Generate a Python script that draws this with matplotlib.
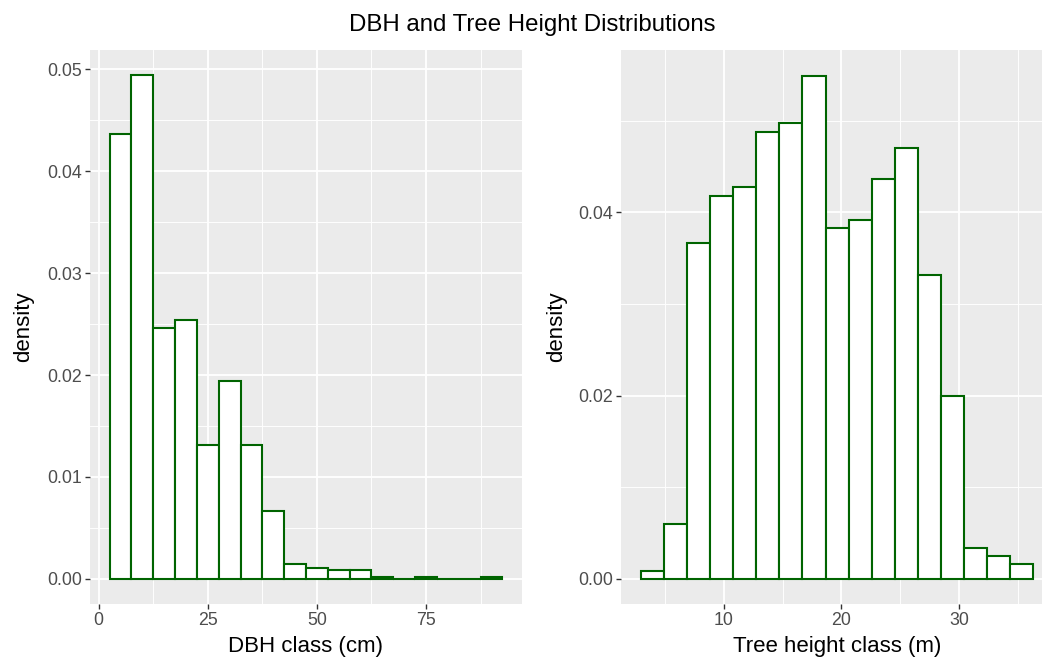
import numpy as np
import matplotlib
matplotlib.use("Agg")
import matplotlib.pyplot as plt
from matplotlib.ticker import MultipleLocator, FixedLocator

plt.rcParams['font.family'] = ['Liberation Sans', 'DejaVu Sans']

# DBH histogram (bin width 5 cm, first bin starts at 2.5)
dbh_start = 2.5
dbh_width = 5.0
dbh_density = [0.0437, 0.0494, 0.0246, 0.0254, 0.0131, 0.0194, 0.0131, 0.00663,
               0.00147, 0.00111, 0.00091, 0.00091, 0.0002, 0.0, 0.0002, 0.0, 0.0, 0.0002]

# tree height histogram (17 bins)
h_start = 2.94
h_width = 1.963
h_density = [0.0008, 0.0060, 0.0366, 0.0418, 0.0427, 0.0488, 0.0497, 0.0549,
             0.0383, 0.0392, 0.0436, 0.0470, 0.0331, 0.0200, 0.0034, 0.0025, 0.0016]

W, H = 1042, 660
fig = plt.figure(figsize=(W / 100, H / 100), dpi=100)

def px_axes(x0, y0, x1, y1):
    return fig.add_axes([x0 / W, 1 - y1 / H, (x1 - x0) / W, (y1 - y0) / H])

def style(ax):
    ax.set_facecolor('#EBEBEB')
    for s in ax.spines.values():
        s.set_visible(False)
    ax.grid(which='major', color='white', lw=1.3)
    ax.grid(which='minor', color='white', lw=0.65)
    ax.set_axisbelow(True)
    ax.tick_params(which='major', length=3.5, width=1.0, color='#333333',
                   labelcolor='#4D4D4D', labelsize=12.8, pad=2.5)
    ax.tick_params(which='minor', length=0)

def hist(ax, start, width, dens):
    lefts = start + width * np.arange(len(dens))
    ax.bar(lefts, dens, width=width, align='edge', color='white',
           edgecolor='#006400', linewidth=1.5, zorder=3)

ax1 = px_axes(90, 50, 522, 604)
hist(ax1, dbh_start, dbh_width, dbh_density)
style(ax1)
ax1.set_xlim(-2.0, 97.0)
ax1.set_ylim(-0.00247, 0.0519)
ax1.xaxis.set_major_locator(FixedLocator([0, 25, 50, 75]))
ax1.xaxis.set_minor_locator(FixedLocator([12.5, 37.5, 62.5, 87.5]))
ax1.yaxis.set_major_locator(MultipleLocator(0.01))
ax1.yaxis.set_minor_locator(FixedLocator([0.005, 0.015, 0.025, 0.035, 0.045]))
ax1.set_yticklabels(['%.2f' % v for v in ax1.get_yticks()])
ax1.set_xlabel('DBH class (cm)', fontsize=16, labelpad=5)
ax1.set_ylabel('density', fontsize=16, labelpad=9)

ax2 = px_axes(621, 50, 1053, 604)
hist(ax2, h_start, h_width, h_density)
style(ax2)
ax2.set_xlim(1.27, 37.97)
ax2.set_ylim(-0.00275, 0.0577)
ax2.xaxis.set_major_locator(FixedLocator([10, 20, 30]))
ax2.xaxis.set_minor_locator(FixedLocator([5, 15, 25, 35]))
ax2.yaxis.set_major_locator(FixedLocator([0.0, 0.02, 0.04]))
ax2.yaxis.set_minor_locator(FixedLocator([0.01, 0.03, 0.05]))
ax2.set_yticklabels(['0.00', '0.02', '0.04'])
ax2.set_xlabel('Tree height class (m)', fontsize=16, labelpad=5)
ax2.set_ylabel('density', fontsize=16, labelpad=8)

fig.text(532 / W, 1 - 25 / H, 'DBH and Tree Height Distributions',
         ha='center', va='center', fontsize=17.3)

fig.savefig('out.png', dpi=100)
